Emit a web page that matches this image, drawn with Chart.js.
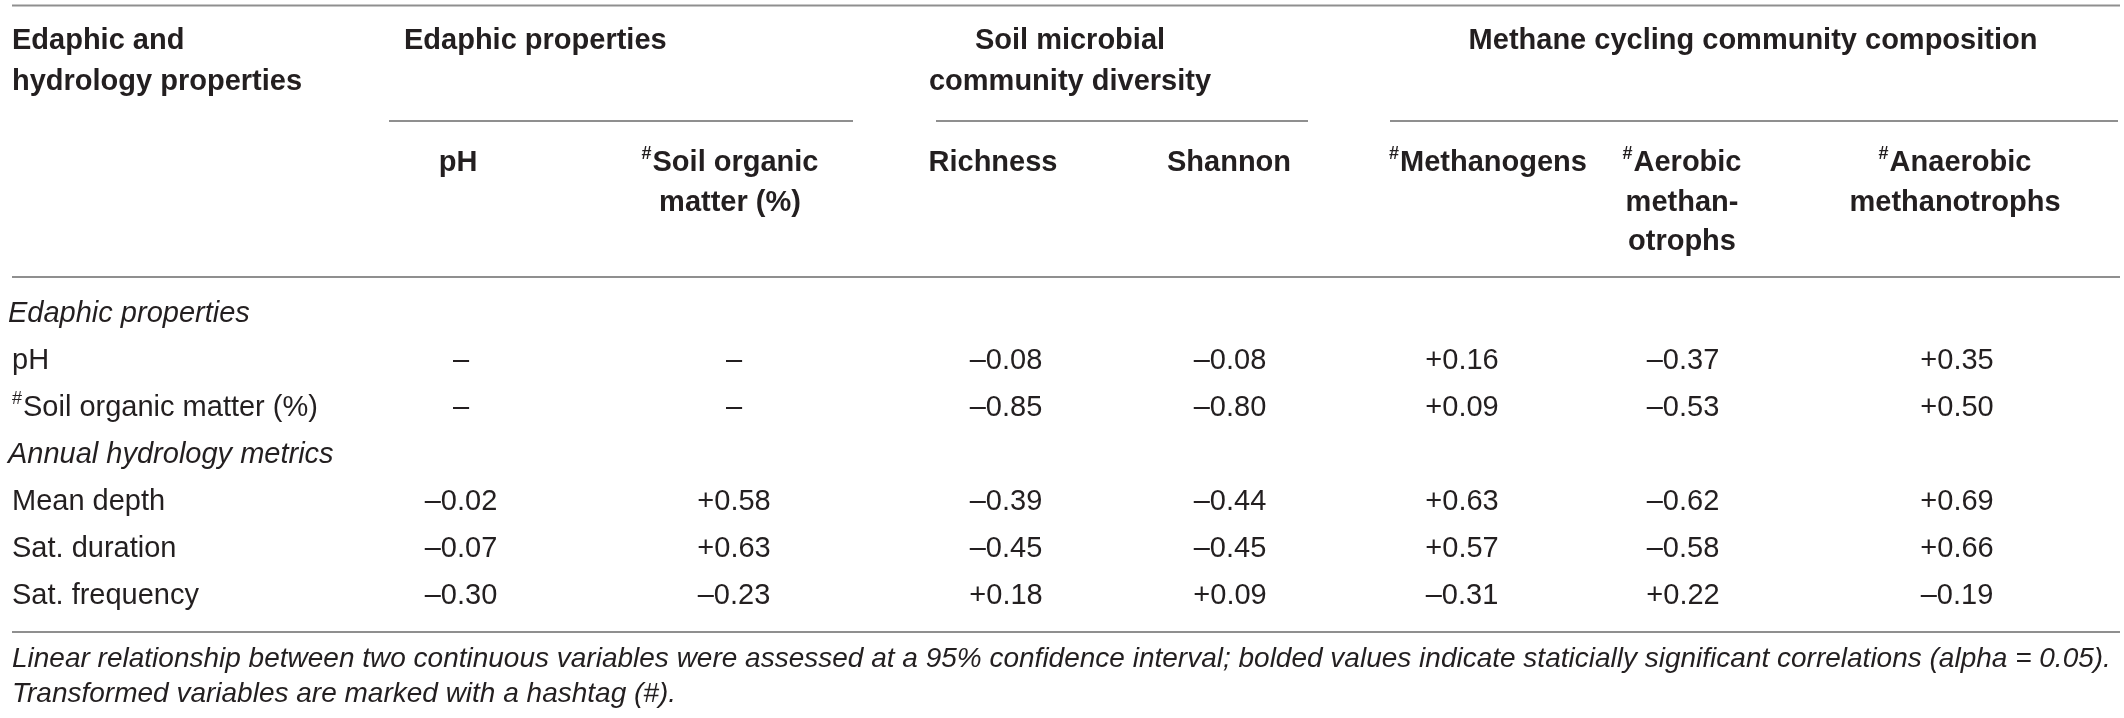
<!DOCTYPE html>
<html>
<head>
<meta charset="utf-8">
<script src="https://cdn.jsdelivr.net/npm/chart.js@4.4.1/dist/chart.umd.min.js"></script>
<style>
  html, body { margin: 0; padding: 0; background: #fff; }
  #wrap { width: 2124px; height: 718px; }
</style>
</head>
<body>
<div id="wrap"><canvas id="table"></canvas></div>
<script>
// table content
const columns = ["pH", "Soil organic matter (%)", "Richness", "Shannon", "Methanogens", "Aerobic methanotrophs", "Anaerobic methanotrophs"];
const columnTransformed = [false, true, false, false, true, true, true];
const groups = ["Edaphic properties", "Soil microbial community diversity", "Methane cycling community composition"];
const sections = ["Edaphic properties", "Annual hydrology metrics"];
const rows = ["pH", "Soil organic matter (%)", "Mean depth", "Sat. duration", "Sat. frequency"];
const rowTransformed = [false, true, false, false, false];
const rowSection = [0, 0, 1, 1, 1];

// correlation coefficients, one array per row (null = not tested)
const pH = [null, null, -0.08, -0.08, 0.16, -0.37, 0.35];
const soilOrganicMatter = [null, null, -0.85, -0.80, 0.09, -0.53, 0.50];
const meanDepth = [-0.02, 0.58, -0.39, -0.44, 0.63, -0.62, 0.69];
const satDuration = [-0.07, 0.63, -0.45, -0.45, 0.57, -0.58, 0.66];
const satFrequency = [-0.30, -0.23, 0.18, 0.09, -0.31, 0.22, -0.19];
const values = [pH, soilOrganicMatter, meanDepth, satDuration, satFrequency];

const stubHeader = ["Edaphic and", "hydrology properties"];
const footnote = [
  "Linear relationship between two continuous variables were assessed at a 95% confidence interval; bolded values indicate staticially significant correlations (alpha = 0.05).",
  "Transformed variables are marked with a hashtag (#)."
];

// layout (table units, mapped through the x / y scales)
const colX = [461, 734, 1006, 1230, 1462, 1683, 1957];
const colHeadX = [458, 730, 993, 1229, 1488, 1682, 1955];
const colHeadLines = [["pH"], ["Soil organic", "matter (%)"], ["Richness"], ["Shannon"], ["Methanogens"], ["Aerobic", "methan-", "otrophs"], ["Anaerobic", "methanotrophs"]];
const groupLines = [["Edaphic properties"], ["Soil microbial", "community diversity"], ["Methane cycling community composition"]];
const groupX = [404, 1070, 1753];
const groupAlign = ["left", "center", "center"];
const groupRule = [[389, 853], [936, 1308], [1390, 2118]];
const headLineY = [41, 82];
const subHeadY = [163, 203, 242];
const bodyTop = 314, rowStep = 47;
const leftX = 12, rightX = 2120;
const rulesY = [5.5, 277, 632];
const footY = [659, 694];

// body line order: section headers interleaved with rows
const bodyLines = [];
rows.forEach((r, i) => {
  if (i === 0 || rowSection[i] !== rowSection[i - 1]) bodyLines.push({ section: rowSection[i] });
  bodyLines.push({ row: i });
});
const rowY = [];
bodyLines.forEach((l, k) => { if (l.row !== undefined) rowY[l.row] = bodyTop + k * rowStep; });

const cells = [];
values.forEach((arr, i) => arr.forEach((v, j) => cells.push({ x: colX[j], y: rowY[i], v: v })));

const ink = "#231f20";
const family = "'Liberation Sans', Arial, Helvetica, sans-serif";
const bold = "bold 29px " + family;
const plain = "29px " + family;
const ital = "italic 29px " + family;

function fmt(v) {
  if (v === null) return "\u2013";
  return (v < 0 ? "\u2013" : "+") + Math.abs(v).toFixed(2);
}

// text with optional superscript hash
function drawLabel(ctx, text, x, y, font, align, hash) {
  ctx.font = font;
  const w = ctx.measureText(text).width;
  const hashFont = font.replace("29px", "18px");
  ctx.font = hashFont;
  const hw = hash ? ctx.measureText("#").width + 1 : 0;
  const total = w + hw;
  let start = align === "center" ? x - total / 2 : x;
  ctx.textAlign = "left";
  if (hash) {
    ctx.font = hashFont;
    ctx.fillText("#", start, y - 9);
  }
  ctx.font = font;
  ctx.fillText(text, start + hw, y);
}

const tablePlugin = {
  id: "tableText",
  afterDatasetsDraw(chart) {
    const ctx = chart.ctx;
    const xs = chart.scales.x, ys = chart.scales.y;
    const X = v => xs.getPixelForValue(v), Y = v => ys.getPixelForValue(v);
    ctx.save();
    ctx.fillStyle = ink;
    ctx.textBaseline = "middle";

    // rules
    ctx.strokeStyle = "#8f8f8f";
    ctx.lineWidth = 2;
    rulesY.forEach(y => {
      ctx.beginPath(); ctx.moveTo(X(leftX), Y(y)); ctx.lineTo(X(rightX), Y(y)); ctx.stroke();
    });
    groupRule.forEach(r => {
      ctx.beginPath(); ctx.moveTo(X(r[0]), Y(121)); ctx.lineTo(X(r[1]), Y(121)); ctx.stroke();
    });

    // stub + group headers
    stubHeader.forEach((t, i) => drawLabel(ctx, t, X(leftX), Y(headLineY[i]), bold, "left", false));
    groupLines.forEach((lines, g) => lines.forEach((t, i) =>
      drawLabel(ctx, t, X(groupX[g]), Y(headLineY[i]), bold, groupAlign[g], false)));

    // column headers
    colHeadLines.forEach((lines, j) => lines.forEach((t, i) =>
      drawLabel(ctx, t, X(colHeadX[j]), Y(subHeadY[i]), bold, "center", i === 0 && columnTransformed[j])));

    // stub body
    bodyLines.forEach((l, k) => {
      const y = Y(bodyTop + k * rowStep);
      if (l.section !== undefined) drawLabel(ctx, sections[l.section], X(8), y, ital, "left", false);
      else drawLabel(ctx, rows[l.row], X(leftX), y, plain, "left", rowTransformed[l.row]);
    });

    // cell values from the dataset elements
    const meta = chart.getDatasetMeta(0);
    ctx.font = plain;
    ctx.textAlign = "center";
    meta.data.forEach((pt, k) => {
      ctx.fillText(fmt(cells[k].v), pt.x, pt.y);
    });

    // footnote
    ctx.font = "italic 28px " + family;
    ctx.textAlign = "left";
    footnote.forEach((t, i) => ctx.fillText(t, X(leftX), Y(footY[i])));
    ctx.restore();
  }
};

new Chart(document.getElementById("table"), {
  type: "scatter",
  data: {
    datasets: [{
      data: cells,
      pointRadius: 0,
      pointHoverRadius: 0,
    }],
  },
  options: {
    responsive: true,
    maintainAspectRatio: false,
    animation: false,
    devicePixelRatio: 1,
    events: [],
    layout: { padding: 0 },
    plugins: {
      legend: { display: false },
      tooltip: { enabled: false },
    },
    scales: {
      x: { type: "linear", min: 0, max: 2124, display: false },
      y: { type: "linear", min: 0, max: 718, reverse: true, display: false },
    },
  },
  plugins: [tablePlugin],
});
</script>
</body>
</html>
